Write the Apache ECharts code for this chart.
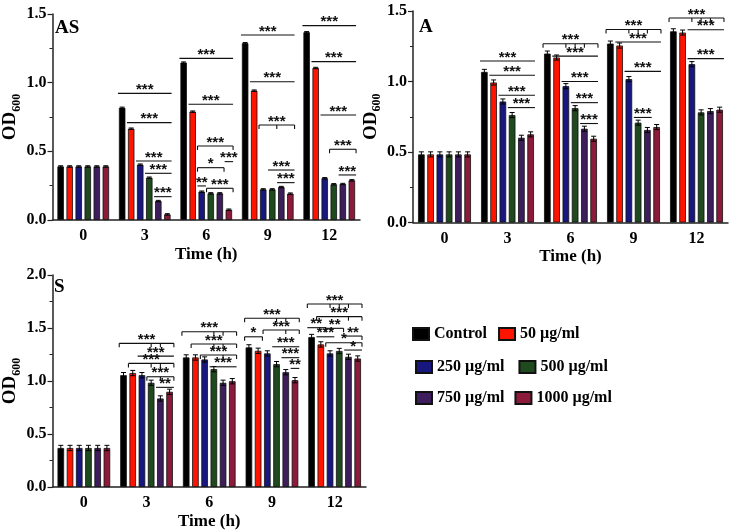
<!DOCTYPE html>
<html>
<head>
<meta charset="utf-8">
<script src="https://cdn.jsdelivr.net/npm/echarts@6/dist/echarts.min.js"></script>
<style>
    html, body { margin: 0; padding: 0; background: #fff; }
    #chart { width: 734px; height: 532px; }
</style>
</head>
<body>
<div id="chart"></div>
<script>
    var times = ['0', '3', '6', '9', '12'];
    var groupNames = ['Control', '50 µg/ml', '250 µg/ml', '500 µg/ml', '750 µg/ml', '1000 µg/ml'];
    var groupColors = ['#000000', '#ff1400', '#17177f', '#1e4a1e', '#3d1d5c', '#8c1a3a'];

    // AS panel, OD600 at 0, 3, 6, 9, 12 h
    var asControl = [0.39, 0.817, 1.146, 1.287, 1.367];
    var as50 = [0.39, 0.665, 0.789, 0.942, 1.107];
    var as250 = [0.39, 0.403, 0.206, 0.223, 0.304];
    var as500 = [0.39, 0.308, 0.194, 0.223, 0.26];
    var as750 = [0.39, 0.138, 0.194, 0.24, 0.262];
    var as1000 = [0.39, 0.041, 0.075, 0.192, 0.289];
    var asErr = [0.005, 0.005, 0.005, 0.005, 0.005];

    // A panel
    var aControl = [0.483, 1.068, 1.198, 1.269, 1.356];
    var a50 = [0.483, 0.993, 1.17, 1.255, 1.347];
    var a250 = [0.483, 0.858, 0.967, 1.017, 1.123];
    var a500 = [0.483, 0.762, 0.811, 0.708, 0.781];
    var a750 = [0.483, 0.601, 0.665, 0.656, 0.79];
    var a1000 = [0.483, 0.625, 0.594, 0.677, 0.8];
    var aErr = [0.018, 0.018, 0.018, 0.018, 0.018];

    // S panel
    var sControl = [0.368, 1.055, 1.222, 1.317, 1.415];
    var s50 = [0.368, 1.075, 1.222, 1.285, 1.345];
    var s250 = [0.368, 1.055, 1.203, 1.26, 1.26];
    var s500 = [0.368, 0.983, 1.112, 1.159, 1.283];
    var s750 = [0.368, 0.835, 0.983, 1.083, 1.228];
    var s1000 = [0.368, 0.898, 0.998, 1.008, 1.212];
    var sErr = [0.025, 0.025, 0.025, 0.025, 0.025];

    // significance marks: [time index, from bar, to bar, OD, label, bracket ticks]
    var sigAS = [
        [1, 0, 5, 0.922, '***', []], [1, 1, 5, 0.709, '***', []], [1, 2, 5, 0.43, '***', []],
        [1, 3, 5, 0.34, '***', []], [1, 4, 5, 0.17, '***', []],
        [2, 0, 5, 1.177, '***', []], [2, 1, 5, 0.843, '***', []], [2, 2, 5, 0.539, '***', [2, 5]],
        [2, 5, 5, 0.425, '***', []], [2, 2, 4, 0.381, '*', [2, 4]], [2, 2, 2, 0.248, '**', []],
        [2, 3, 5, 0.231, '***', [3, 5]],
        [3, 0, 5, 1.347, '***', []], [3, 1, 5, 1.007, '***', []], [3, 2, 5, 0.692, '***', [2, 3.5, 5]],
        [3, 3, 5, 0.364, '***', []], [3, 4, 5, 0.272, '***', []],
        [4, 0, 5, 1.415, '***', []], [4, 1, 5, 1.153, '***', []], [4, 2, 5, 0.765, '***', []],
        [4, 3, 5, 0.515, '***', [3, 5]], [4, 4, 5, 0.328, '***', []]
    ];
    var sigA = [
        [1, 0, 5, 1.145, '***', []], [1, 1, 5, 1.044, '***', []], [1, 2, 5, 0.902, '***', []],
        [1, 3, 5, 0.815, '***', []],
        [2, 0, 5, 1.268, '***', [0, 2, 3, 4, 5]], [2, 1, 5, 1.18, '***', []], [2, 2, 5, 1.0, '***', []],
        [2, 3, 5, 0.85, '***', []], [2, 4, 5, 0.702, '***', []],
        [3, 0, 5, 1.369, '***', [0, 2, 3, 4, 5]], [3, 1, 5, 1.28, '***', []], [3, 2, 5, 1.072, '***', []],
        [3, 3, 4, 0.745, '***', []],
        [4, 0, 5, 1.45, '***', [0, 2, 3, 4, 5]], [4, 2, 5, 1.367, '***', []], [4, 2, 5, 1.162, '***', []]
    ];
    var sigS = [
        [1, 0, 5, 1.355, '***', [0, 3, 4, 5]], [1, 2, 5, 1.235, '***', []], [1, 1, 5, 1.166, '***', [1, 3, 4, 5]],
        [1, 3, 5, 1.04, '***', [3, 4, 5]], [1, 4, 5, 0.94, '**', []],
        [2, 0, 5, 1.465, '***', [0, 3, 4, 5]], [2, 1, 5, 1.349, '***', [1, 3, 4, 5]],
        [2, 2, 5, 1.245, '***', [2, 4, 5]], [2, 3, 5, 1.134, '***', []],
        [3, 0, 5, 1.592, '***', [0, 3, 4, 5]], [3, 2, 5, 1.481, '***', [2, 4, 5]], [3, 0, 1, 1.417, '*', [0, 1]],
        [3, 3, 5, 1.323, '***', []], [3, 4, 5, 1.22, '***', []], [3, 5, 5, 1.119, '**', []],
        [4, 0, 5, 1.727, '***', [0, 2, 3, 4, 5]], [4, 1, 5, 1.607, '***', [1, 4, 5]], [4, 0, 1, 1.503, '**', []],
        [4, 2, 3, 1.497, '**', [2, 3]], [4, 1, 2, 1.417, '***', []], [4, 4, 5, 1.424, '**', [5]],
        [4, 2, 5, 1.361, '*', [2, 5]], [4, 4, 5, 1.292, '*', []]
    ];

    var FONT = '"Liberation Serif", "DejaVu Serif", serif';
    var BAR_FRAC = 0.105; // bar width as part of a category band
    var lineStyle = { stroke: '#111', lineWidth: 1.1 };

    var chart = echarts.init(document.getElementById('chart'));

    function barCenter(cx, bw, i) {
        return cx + (i * 1.4 - 3.5) * bw;
    }

    function errRender(params, api) {
        var t = api.value(0), g = api.value(1), v = api.value(2), e = api.value(3);
        var bw = api.size([1, 0])[0] * BAR_FRAC;
        var x = barCenter(api.coord([t, v])[0], bw, g);
        var yHi = api.coord([t, v + e])[1];
        var yLo = api.coord([t, v - e])[1];
        var cap = bw * 0.38;
        var st = { stroke: '#000', lineWidth: 1 };
        return {
            type: 'group',
            children: [
                { type: 'line', shape: { x1: x, y1: yHi, x2: x, y2: yLo }, style: st },
                { type: 'line', shape: { x1: x - cap, y1: yHi, x2: x + cap, y2: yHi }, style: st },
                { type: 'line', shape: { x1: x - cap, y1: yLo, x2: x + cap, y2: yLo }, style: st }
            ]
        };
    }

    function sigRender(list) {
        return function (params, api) {
            var a = list[params.dataIndex];
            var bw = api.size([1, 0])[0] * BAR_FRAC;
            var pt = api.coord([a[0], a[3]]);
            var y = pt[1];
            var x1 = barCenter(pt[0], bw, a[1]) - bw / 2 - 1;
            var x2 = barCenter(pt[0], bw, a[2]) + bw / 2 + 1;
            var kids = [{ type: 'line', shape: { x1: x1, y1: y, x2: x2, y2: y }, style: lineStyle }];
            a[5].forEach(function (i) {
                var tx = i === a[1] ? x1 : (i === a[2] ? x2 : barCenter(pt[0], bw, i));
                kids.push({ type: 'line', shape: { x1: tx, y1: y, x2: tx, y2: y + 4 }, style: lineStyle });
            });
            kids.push({
                type: 'text',
                style: {
                    text: a[4], x: (x1 + x2) / 2, y: y + 4, align: 'center', verticalAlign: 'bottom',
                    font: 'bold 15px "Liberation Sans", sans-serif', fill: '#111'
                }
            });
            return { type: 'group', children: kids };
        };
    }

    function xAxis(idx) {
        return {
            type: 'category', gridIndex: idx, data: times,
            name: 'Time (h)', nameLocation: 'middle', nameGap: 26,
            nameTextStyle: { fontFamily: FONT, fontWeight: 'bold', fontSize: 17, color: '#000' },
            axisLine: { lineStyle: { color: '#222', width: 1.5 } },
            axisTick: { show: false },
            axisLabel: { fontFamily: FONT, fontWeight: 'bold', fontSize: 16, color: '#000', margin: 8 }
        };
    }

    function yAxis(idx, max) {
        return {
            type: 'value', gridIndex: idx, min: 0, max: max, interval: 0.5,
            name: '{a|OD}{b|600}', nameLocation: 'middle', nameRotate: 90, nameGap: 30,
            nameTextStyle: {
                rich: {
                    a: { fontFamily: FONT, fontWeight: 'bold', fontSize: 19, color: '#000', lineHeight: 24 },
                    b: { fontFamily: FONT, fontWeight: 'bold', fontSize: 12, color: '#000', lineHeight: 24, verticalAlign: 'bottom' }
                }
            },
            axisLine: { show: true, lineStyle: { color: '#222', width: 1.5 } },
            axisTick: { show: true, length: 5, lineStyle: { color: '#222', width: 1.2 } },
            minorTick: { show: true, splitNumber: 2, length: 3, lineStyle: { color: '#222', width: 1 } },
            splitLine: { show: false },
            axisLabel: {
                fontFamily: FONT, fontWeight: 'bold', fontSize: 16, color: '#000', margin: 6,
                formatter: function (v) { return v.toFixed(1); }
            }
        };
    }

    function panelSeries(idx, values, errs, sig) {
        var out = values.map(function (vals, g) {
            return {
                name: groupNames[g], type: 'bar', xAxisIndex: idx, yAxisIndex: idx,
                data: vals, barWidth: (BAR_FRAC * 100) + '%', barGap: '40%',
                itemStyle: { color: groupColors[g], borderColor: '#111', borderWidth: 0.8 }
            };
        });
        var errData = [];
        values.forEach(function (vals, g) {
            vals.forEach(function (v, t) { errData.push([t, g, v, errs[t]]); });
        });
        out.push({
            type: 'custom', xAxisIndex: idx, yAxisIndex: idx, renderItem: errRender,
            data: errData, encode: { x: 0, y: 2 }, z: 3, silent: true
        });
        out.push({
            type: 'custom', xAxisIndex: idx, yAxisIndex: idx, renderItem: sigRender(sig),
            data: sig.map(function (a) { return [a[0], a[3]]; }), encode: { x: 0, y: 1 }, z: 4, silent: true
        });
        return out;
    }

    function legendRow(names, left, top, gap) {
        return {
            data: names, left: left, top: top, orient: 'horizontal', icon: 'rect', padding: 0,
            itemWidth: 16, itemHeight: 12, itemGap: gap,
            textStyle: { fontFamily: FONT, fontWeight: 'bold', fontSize: 16, color: '#000' }
        };
    }

    var panelLabel = function (text, left, top) {
        return { text: text, left: left, top: top, textStyle: { fontFamily: FONT, fontWeight: 'bold', fontSize: 19, color: '#000' } };
    };

    chart.setOption({
        animation: false,
        backgroundColor: '#fff',
        title: [panelLabel('AS', 50, 14), panelLabel('A', 414, 13), panelLabel('S', 49, 273)],
        legend: [
            legendRow([groupNames[0], groupNames[1]], 412, 326, 11),
            legendRow([groupNames[2], groupNames[3]], 415, 359, 14),
            legendRow([groupNames[4], groupNames[5]], 415, 390, 10)
        ],
        grid: [
            { left: 50, top: 14, width: 310, height: 206 },
            { left: 413, top: 11, width: 315, height: 211.5 },
            { left: 50, top: 275, width: 316, height: 212 }
        ],
        xAxis: [xAxis(0), xAxis(1), xAxis(2)],
        yAxis: [yAxis(0, 1.5), yAxis(1, 1.5), yAxis(2, 2.0)],
        series: [].concat(
            panelSeries(0, [asControl, as50, as250, as500, as750, as1000], asErr, sigAS),
            panelSeries(1, [aControl, a50, a250, a500, a750, a1000], aErr, sigA),
            panelSeries(2, [sControl, s50, s250, s500, s750, s1000], sErr, sigS)
        )
    });
</script>
</body>
</html>
